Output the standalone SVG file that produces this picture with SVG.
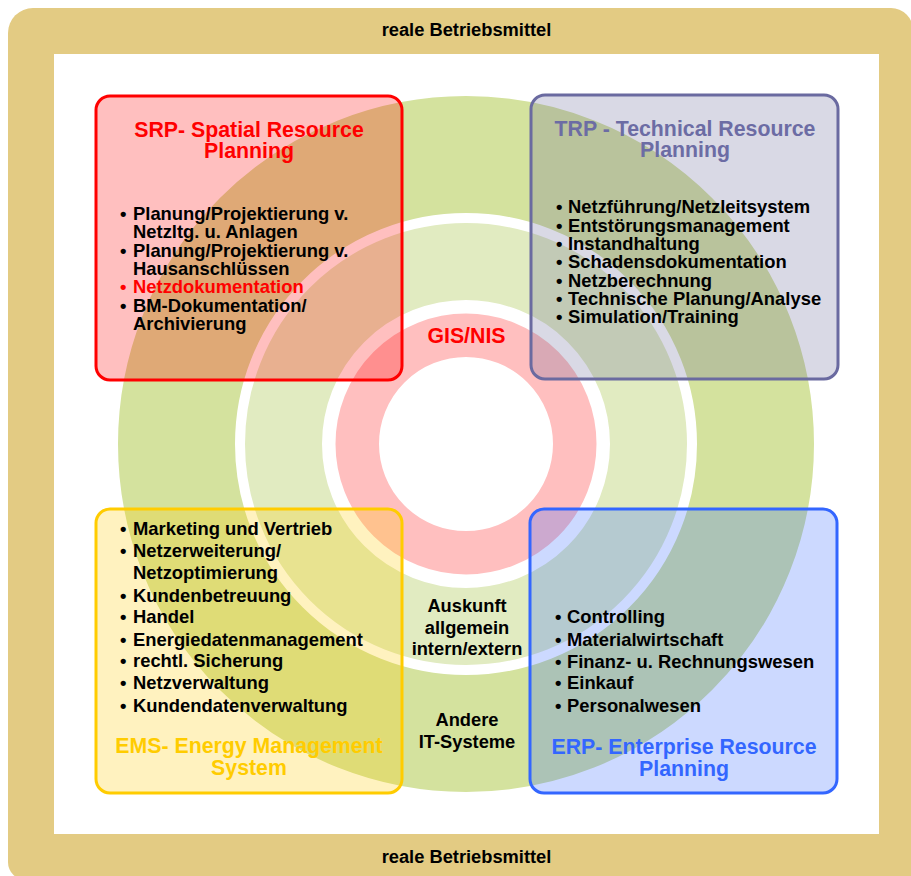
<svg xmlns="http://www.w3.org/2000/svg" width="911" height="876" viewBox="0 0 911 876">
<style>
text{font-family:"Liberation Sans",Arial,sans-serif;font-weight:bold;fill:#000}
.t{font-size:21.3px;text-anchor:middle}
.b{font-size:18.4px}
.c{font-size:18.3px;text-anchor:middle}
.box{stroke-width:3}
</style>
<rect width="911" height="876" fill="#fff"/>
<g id="frame">
<path d="M33,8 H891 A22,22 0 0 1 913,30 V880 H26 A18,18 0 0 1 8,862 V33 A25,25 0 0 1 33,8 Z" fill="#e3cb83"/>
<rect x="54" y="54" width="825" height="780" fill="#fff"/>
<text class="c" x="466.5" y="36">reale Betriebsmittel</text>
<text class="c" x="466.5" y="863">reale Betriebsmittel</text>
</g>
<g id="rings">
<circle cx="466" cy="444" r="289.5" fill="none" stroke="#d4e29e" stroke-width="117"/>
<circle cx="466" cy="444" r="182.5" fill="none" stroke="#e1ebc1" stroke-width="77"/>
<circle cx="466" cy="444" r="108.75" fill="none" stroke="#ffbfbf" stroke-width="43.5"/>
<text class="t" x="466.5" y="343" fill="#ff0000" style="fill:#ff0000">GIS/NIS</text>
<text class="c" x="467" y="612">Auskunft</text>
<text class="c" x="467" y="634">allgemein</text>
<text class="c" x="467" y="655">intern/extern</text>
<text class="c" x="467" y="726">Andere</text>
<text class="c" x="467" y="748">IT-Systeme</text>
</g>
<g id="srp">
<rect class="box" x="96" y="96" width="306" height="284" rx="14" fill="#ff0000" fill-opacity="0.25" stroke="#ff0000"/>
<text class="t" x="249" y="137" style="fill:#ff0000">SRP- Spatial Resource</text>
<text class="t" x="249" y="158" style="fill:#ff0000">Planning</text>
<text class="b"><tspan x="120" y="220">•</tspan><tspan x="133" y="220">Planung/Projektierung v.</tspan><tspan x="133" y="238">Netzltg. u. Anlagen</tspan><tspan x="120" y="257">•</tspan><tspan x="133" y="257">Planung/Projektierung v.</tspan><tspan x="133" y="275">Hausanschlüssen</tspan><tspan x="120" y="293" style="fill:#ff0000">•</tspan><tspan x="133" y="293" style="fill:#ff0000">Netzdokumentation</tspan><tspan x="120" y="312">•</tspan><tspan x="133" y="312">BM-Dokumentation/</tspan><tspan x="133" y="330">Archivierung</tspan></text>
</g>
<g id="trp">
<rect class="box" x="531" y="95" width="307" height="284" rx="14" fill="#666699" fill-opacity="0.25" stroke="#6a6aa0"/>
<text class="t" x="685" y="136" style="fill:#6c6ca4">TRP - Technical Resource</text>
<text class="t" x="685" y="157" style="fill:#6c6ca4">Planning</text>
<text class="b"><tspan x="556" y="213">•</tspan><tspan x="568" y="213">Netzführung/Netzleitsystem</tspan><tspan x="556" y="232">•</tspan><tspan x="568" y="232">Entstörungsmanagement</tspan><tspan x="556" y="250">•</tspan><tspan x="568" y="250">Instandhaltung</tspan><tspan x="556" y="268">•</tspan><tspan x="568" y="268">Schadensdokumentation</tspan><tspan x="556" y="287">•</tspan><tspan x="568" y="287">Netzberechnung</tspan><tspan x="556" y="305">•</tspan><tspan x="568" y="305">Technische Planung/Analyse</tspan><tspan x="556" y="323">•</tspan><tspan x="568" y="323">Simulation/Training</tspan></text>
</g>
<g id="ems">
<rect class="box" x="96" y="509" width="306" height="284" rx="14" fill="#ffcc00" fill-opacity="0.25" stroke="#ffcc00"/>
<text class="b"><tspan x="120" y="535">•</tspan><tspan x="133" y="535">Marketing und Vertrieb</tspan><tspan x="120" y="557">•</tspan><tspan x="133" y="557">Netzerweiterung/</tspan><tspan x="133" y="579">Netzoptimierung</tspan><tspan x="120" y="602">•</tspan><tspan x="133" y="602">Kundenbetreuung</tspan><tspan x="120" y="623">•</tspan><tspan x="133" y="623">Handel</tspan><tspan x="120" y="646">•</tspan><tspan x="133" y="646">Energiedatenmanagement</tspan><tspan x="120" y="667">•</tspan><tspan x="133" y="667">rechtl. Sicherung</tspan><tspan x="120" y="689">•</tspan><tspan x="133" y="689">Netzverwaltung</tspan><tspan x="120" y="712">•</tspan><tspan x="133" y="712">Kundendatenverwaltung</tspan></text>
<text class="t" x="249" y="753" style="fill:#ffcc00">EMS- Energy Management</text>
<text class="t" x="249" y="775" style="fill:#ffcc00">System</text>
</g>
<g id="erp">
<rect class="box" x="530" y="509" width="307" height="284" rx="14" fill="#3366ff" fill-opacity="0.25" stroke="#3366ff"/>
<text class="b"><tspan x="555" y="623">•</tspan><tspan x="567" y="623">Controlling</tspan><tspan x="555" y="646">•</tspan><tspan x="567" y="646">Materialwirtschaft</tspan><tspan x="555" y="668">•</tspan><tspan x="567" y="668">Finanz- u. Rechnungswesen</tspan><tspan x="555" y="689">•</tspan><tspan x="567" y="689">Einkauf</tspan><tspan x="555" y="712">•</tspan><tspan x="567" y="712">Personalwesen</tspan></text>
<text class="t" x="684" y="754" style="fill:#3366ff">ERP- Enterprise Resource</text>
<text class="t" x="684" y="776" style="fill:#3366ff">Planning</text>
</g>
<g id="connectors"/>
</svg>
